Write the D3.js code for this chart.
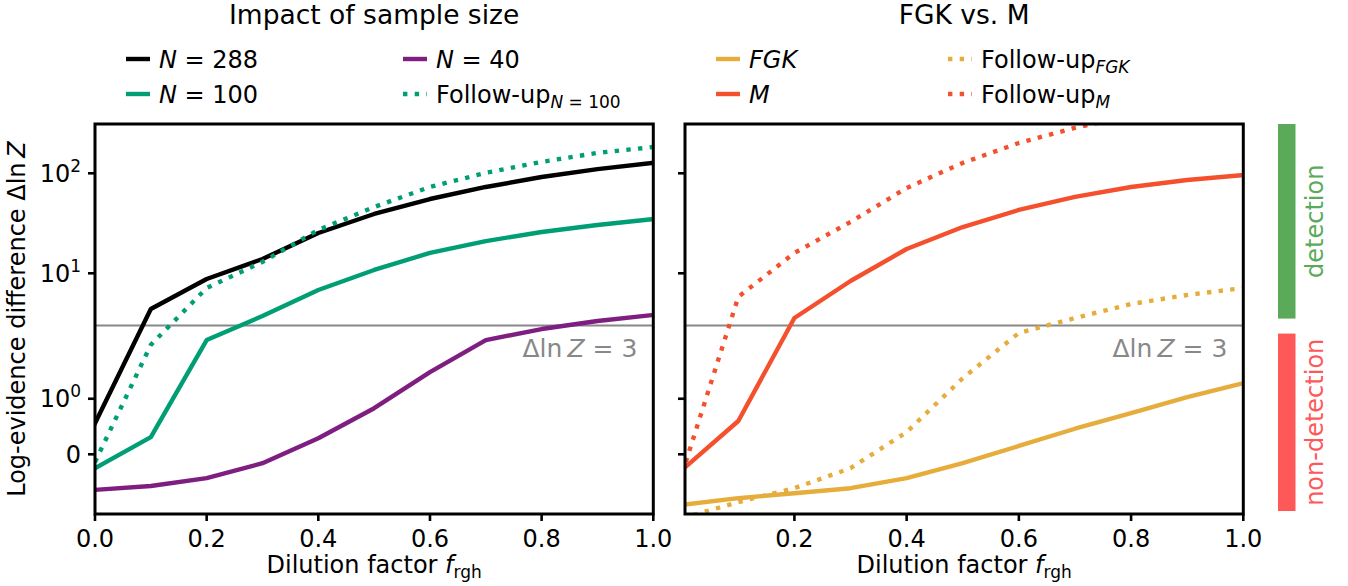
<!DOCTYPE html>
<html>
<head>
<meta charset="utf-8">
<script src="https://cdn.jsdelivr.net/npm/d3@7"></script>
<style>
  html, body { margin: 0; padding: 0; background: #fff; }
  svg { display: block; font-family: "DejaVu Sans", sans-serif; }
</style>
</head>
<body>
<svg id="chart" width="1348" height="586"></svg>
<script>
// ---------------- data ----------------
const fValues = [0.0, 0.1, 0.2, 0.3, 0.4, 0.5, 0.6, 0.7, 0.8, 0.9, 1.0];
const n288 = [0.56, 4.39, 8.77, 13.9, 25.3, 39.2, 55.3, 73, 91.8, 110, 127];
const n100 = [-0.25, 0.31, 2.15, 3.74, 6.81, 10.8, 16.0, 21.0, 25.9, 30.4, 34.9];
const followN100 = [-0.14, 1.97, 7.13, 13.0, 27.1, 46.0, 73, 101, 130, 160, 183];
const n40 = [-0.64, -0.57, -0.43, -0.16, 0.29, 0.83, 1.48, 2.15, 2.77, 3.33, 3.83];
const fgk = [-0.91, -0.79, -0.70, -0.61, -0.43, -0.16, 0.15, 0.46, 0.74, 1.03, 1.28];
const mStar = [-0.28, 0.6, 3.57, 8.37, 17.5, 29, 43, 58, 73, 85.7, 96];
const followFGK = [-1.15, -0.86, -0.61, -0.25, 0.40, 1.37, 2.53, 3.57, 4.93, 6.07, 7.13];
const followM = [-0.34, 5.8, 16, 32.6, 71.3, 127, 201, 285, 380, 470, 560];
const threshold = 3;
const yTickValues = [0, 1, 10, 100];
const yTickLabels = [["0", ""], ["10", "0"], ["10", "1"], ["10", "2"]];
const xTicksLeft = [0.0, 0.2, 0.4, 0.6, 0.8, 1.0];
const xTicksRight = [0.2, 0.4, 0.6, 0.8, 1.0];

(function () {
const svg = d3.select("#chart");
const yTop = 124, yBot = 514;
const FS = 24, FSsub = 17;
const panels = [
  { x0: 95, x1: 653.3, title: "Impact of sample size", xdom: [0, 1], xticks: xTicksLeft, labels: true },
  { x0: 685, x1: 1243.3, title: "FGK vs. M", xdom: [0.005, 1], xticks: xTicksRight, labels: false }
];

// symmetric log transform (linthresh 2, linscale 1)
const LT = 2, LS = 1 / (1 - 1 / 10);
function symT(v) {
  const a = Math.abs(v);
  if (a <= LT) return v * LS;
  return Math.sign(v) * (LT * LS + LT * Math.log10(a / LT));
}
const yLin = d3.scaleLinear().domain([-1.194, 6.606]).range([yBot, yTop]);
const y = v => yLin(symT(v));

const cBlack = "#000000", cGreen = "#009e74", cPurple = "#7e1e80",
      cFGK = "#e6ad3c", cM = "#f5502e", cGray = "#888888";
const LW = 4.4;
const DOT = "4.4,7.3";

const defs = svg.append("defs");
panels.forEach((p, i) => {
  p.x = d3.scaleLinear().domain(p.xdom).range([p.x0, p.x1]);
  defs.append("clipPath").attr("id", "clip" + i)
    .append("rect").attr("x", p.x0).attr("y", yTop).attr("width", p.x1 - p.x0).attr("height", yBot - yTop);
});

function drawSeries(p, i, vals, color, dotted) {
  const line = d3.line().x((d, k) => p.x(fValues[k])).y(d => y(d));
  svg.append("path")
    .attr("d", line(vals))
    .attr("clip-path", "url(#clip" + i + ")")
    .attr("fill", "none")
    .attr("stroke", color)
    .attr("stroke-width", LW)
    .attr("stroke-linejoin", "round")
    .attr("stroke-linecap", dotted ? "butt" : "square")
    .attr("stroke-dasharray", dotted ? DOT : null);
}

panels.forEach((p, i) => {
  svg.append("line")
    .attr("x1", p.x0).attr("x2", p.x1)
    .attr("y1", y(threshold)).attr("y2", y(threshold))
    .attr("stroke", cGray).attr("stroke-width", 2);
  svg.append("text")
    .attr("x", p.x1 - 16).attr("y", y(threshold) + 31)
    .attr("text-anchor", "end").attr("font-size", 25).attr("fill", cGray)
    .html('Δln\u2009<tspan font-style="italic">Z</tspan> = 3');
});

drawSeries(panels[0], 0, n100, cGreen, false);
drawSeries(panels[0], 0, n40, cPurple, false);
drawSeries(panels[0], 0, n288, cBlack, false);
drawSeries(panels[0], 0, followN100, cGreen, true);
drawSeries(panels[1], 1, fgk, cFGK, false);
drawSeries(panels[1], 1, mStar, cM, false);
drawSeries(panels[1], 1, followFGK, cFGK, true);
drawSeries(panels[1], 1, followM, cM, true);

panels.forEach((p, i) => {
  svg.append("rect")
    .attr("x", p.x0).attr("y", yTop).attr("width", p.x1 - p.x0).attr("height", yBot - yTop)
    .attr("fill", "none").attr("stroke", "#000").attr("stroke-width", 3);
  const xa = svg.append("g");
  p.xticks.forEach(t => {
    const xp = p.x(t);
    xa.append("line").attr("x1", xp).attr("x2", xp).attr("y1", yBot).attr("y2", yBot + 7)
      .attr("stroke", "#000").attr("stroke-width", 2.6);
    xa.append("text").attr("x", xp).attr("y", yBot + 33).attr("text-anchor", "middle")
      .attr("font-size", FS).text(t.toFixed(1));
  });
  yTickValues.forEach((t, k) => {
    const yp = y(t);
    svg.append("line").attr("x1", p.x0 - 7).attr("x2", p.x0).attr("y1", yp).attr("y2", yp)
      .attr("stroke", "#000").attr("stroke-width", 2.6);
    if (p.labels) {
      const tx = svg.append("text").attr("x", p.x0 - 14).attr("y", yp + 8.5)
        .attr("text-anchor", "end").attr("font-size", FS);
      const lab = yTickLabels[k];
      if (lab[1] === "") {
        tx.text(lab[0]);
      } else {
        tx.append("tspan").text(lab[0]);
        tx.append("tspan").attr("font-size", FSsub).attr("dy", -10).text(lab[1]);
      }
    }
  });
  svg.append("text").attr("x", (p.x0 + p.x1) / 2).attr("y", 24).attr("text-anchor", "middle")
    .attr("font-size", 26.5).text(p.title);
  svg.append("text").attr("x", (p.x0 + p.x1) / 2).attr("y", 573).attr("text-anchor", "middle")
    .attr("font-size", FS)
    .html('Dilution factor <tspan font-style="italic">f</tspan><tspan font-size="' + FSsub + '" dy="5">rgh</tspan>');
});

svg.append("text")
  .attr("transform", "translate(25," + ((yTop + yBot) / 2) + ") rotate(-90)")
  .attr("text-anchor", "middle").attr("font-size", FS)
  .html('Log-evidence difference Δln\u2009<tspan font-style="italic">Z</tspan>');

const legendItems = [
  { hx: 126, tx: 159, ty: 59, color: cBlack, dotted: false, html: '<tspan font-style="italic">N</tspan> = 288' },
  { hx: 126, tx: 159, ty: 94, color: cGreen, dotted: false, html: '<tspan font-style="italic">N</tspan> = 100' },
  { hx: 403, tx: 436, ty: 59, color: cPurple, dotted: false, html: '<tspan font-style="italic">N</tspan> = 40' },
  { hx: 403, tx: 436, ty: 94, color: cGreen, dotted: true, html: 'Follow-up<tspan font-size="' + FSsub + '" dy="5"><tspan font-style="italic">N</tspan> = 100</tspan>' },
  { hx: 716, tx: 749, ty: 59, color: cFGK, dotted: false, html: '<tspan font-style="italic">FGK</tspan>' },
  { hx: 716, tx: 749, ty: 94, color: cM, dotted: false, html: '<tspan font-style="italic">M</tspan>' },
  { hx: 948, tx: 981, ty: 59, color: cFGK, dotted: true, html: 'Follow-up<tspan font-size="' + FSsub + '" dy="5" font-style="italic">FGK</tspan>' },
  { hx: 948, tx: 981, ty: 94, color: cM, dotted: true, html: 'Follow-up<tspan font-size="' + FSsub + '" dy="5" font-style="italic">M</tspan>' }
];
legendItems.forEach(it => {
  svg.append("line").attr("x1", it.hx).attr("x2", it.hx + 24).attr("y1", it.ty).attr("y2", it.ty)
    .attr("stroke", it.color).attr("stroke-width", LW)
    .attr("stroke-dasharray", it.dotted ? DOT : null);
  svg.append("text").attr("x", it.tx).attr("y", it.ty + 8.5).attr("font-size", FS).html(it.html);
});

const cDet = "#5aaa5a", cNon = "#ff5858";
svg.append("rect").attr("x", 1278).attr("y", yTop).attr("width", 17.5).attr("height", y(threshold) - 7 - yTop).attr("fill", cDet);
svg.append("rect").attr("x", 1278).attr("y", y(threshold) + 8).attr("width", 17.5).attr("height", 511 - (y(threshold) + 8)).attr("fill", cNon);
svg.append("text").attr("transform", "translate(1323," + ((yTop + y(threshold) - 7) / 2) + ") rotate(-90)")
  .attr("text-anchor", "middle").attr("font-size", FS).attr("fill", cDet).text("detection");
svg.append("text").attr("transform", "translate(1323," + ((y(threshold) + 8 + 511) / 2) + ") rotate(-90)")
  .attr("text-anchor", "middle").attr("font-size", FS).attr("fill", cNon).text("non-detection");
})();
</script>
</body>
</html>
